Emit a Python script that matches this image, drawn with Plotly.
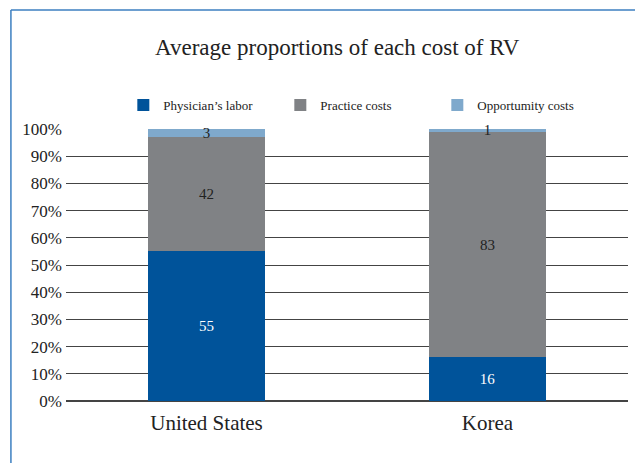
import plotly.graph_objects as go

countries = ["United States", "Korea"]
physician_labor = [55, 16]
practice_costs = [42, 83]
opportunity_costs = [3, 1]
series_names = ["Physician\u2019s labor", "Practice costs", "Opportumity costs"]
y_ticks = [0, 10, 20, 30, 40, 50, 60, 70, 80, 90, 100]
y_tick_labels = [f"{v}%" for v in y_ticks]

colors = ["#00539a", "#808285", "#7fa9cc"]
text_colors = ["white", "#222222", "#222222"]
FONT = "Liberation Serif"

fig = go.Figure()
for name, vals, c, tc in zip(series_names, [physician_labor, practice_costs, opportunity_costs], colors, text_colors):
    fig.add_trace(go.Bar(
        x=countries, y=vals, name=name,
        marker=dict(color=c, line=dict(width=0)),
        text=[str(v) for v in vals],
        textposition="inside", insidetextanchor="middle",
        constraintext="none", textangle=0,
        textfont=dict(family=FONT, size=15, color=tc),
        cliponaxis=False,
    ))

fig.update_layout(
    barmode="stack",
    bargap=0.585,
    width=643, height=463,
    margin=dict(l=58, r=23, t=121, b=70),
    paper_bgcolor="white", plot_bgcolor="white",
    font=dict(family=FONT, color="#222222"),
    title=dict(text="Average proportions of each cost of RV", x=0.512, xref="container",
               y=1 - 39 / 463, yref="container", yanchor="middle",
               font=dict(family=FONT, size=23, color="#222222")),
    showlegend=True,
    legend=dict(orientation="h", x=0.102, xanchor="left", y=1.088, yanchor="middle",
                font=dict(family=FONT, size=13, color="#222222"),
                entrywidth=112, entrywidthmode="pixels",
                traceorder="normal", itemwidth=30, bgcolor="rgba(0,0,0,0)"),
    xaxis=dict(showgrid=False, showline=True, linecolor="#444444", linewidth=1,
               ticks="", tickfont=dict(family=FONT, size=21, color="#222222"),
               ticklabelstandoff=3),
    yaxis=dict(range=[0, 100], tickvals=y_ticks, ticktext=y_tick_labels,
               showgrid=True, gridcolor="#444444", gridwidth=1,
               zeroline=True, zerolinecolor="#444444",
               ticks="", tickfont=dict(family=FONT, size=17, color="#222222"),
               ticklabelstandoff=3),
    shapes=[
        dict(type="line", xref="paper", yref="paper", x0=-0.098, x1=-0.098, y0=1.4375, y1=-0.4,
             line=dict(color="#3c7fc0", width=1.5)),
        dict(type="line", xref="paper", yref="paper", x0=-0.098, x1=1.2, y0=1.4375, y1=1.4375,
             line=dict(color="#3c7fc0", width=1.5)),
    ],
)

fig.write_html("out.html")
